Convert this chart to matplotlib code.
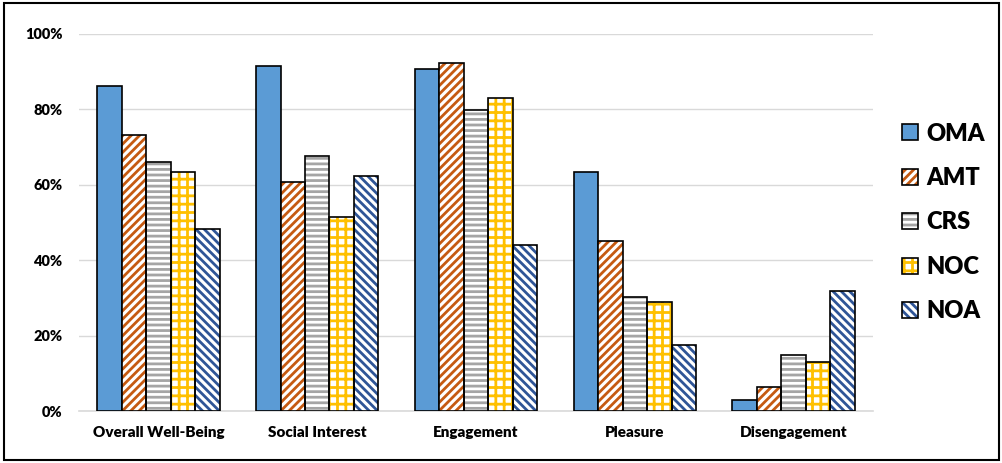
import matplotlib
matplotlib.use("Agg")
import matplotlib.pyplot as plt
import numpy as np
from matplotlib.patches import Patch, Rectangle
from matplotlib.legend_handler import HandlerTuple
from matplotlib.ticker import FuncFormatter

categories = ["Overall Well-Being", "Social Interest", "Engagement", "Pleasure", "Disengagement"]
series_names = ["OMA", "AMT", "CRS", "NOC", "NOA"]

oma = [86.2, 91.5, 90.7, 63.4, 2.9]
amt = [73.2, 60.7, 92.3, 45.1, 6.4]
crs = [66.0, 67.6, 79.8, 30.2, 14.9]
noc = [63.4, 51.5, 83.0, 28.9, 13.0]
noa = [48.3, 62.3, 44.0, 17.5, 31.8]

# look of each series: (face, hatch colour, hatch)
styles = [
    ("#5B9BD5", None, None),
    ("white", "#C55A11", "////"),
    ("white", "#A5A5A5", "---"),
    ("white", "#FFC000", "++"),
    ("white", "#2F5597", "\\\\\\\\"),
]

plt.rcParams["font.family"] = ["Lato", "DejaVu Sans"]
plt.rcParams["hatch.linewidth"] = 2.0

fig = plt.figure(figsize=(10.03, 4.63), dpi=100)
ax = fig.add_axes([0.0788, 0.1123, 0.7916, 0.8143])

x = np.arange(len(categories))
w = 0.154
all_vals = [oma, amt, crs, noc, noa]
handles = []
for i, (vals, (face, hcol, hatch)) in enumerate(zip(all_vals, styles)):
    pos = x + (i - 2) * w
    if hatch is None:
        ax.bar(pos, vals, w, color=face, edgecolor="black", linewidth=1.2, zorder=3)
        handles.append(Patch(facecolor=face, edgecolor="black", linewidth=1.2))
    else:
        ax.bar(pos, vals, w, color=face, edgecolor=hcol, hatch=hatch, linewidth=0, zorder=3)
        ax.bar(pos, vals, w, fill=False, edgecolor="black", linewidth=1.2, zorder=4)
        handles.append((Patch(facecolor=face, edgecolor=hcol, hatch=hatch, linewidth=0),
                        Patch(fill=False, edgecolor="black", linewidth=1.2)))

ax.set_xlim(-0.5, len(categories) - 0.5)
ax.set_ylim(0, 100)
ax.set_yticks(np.arange(0, 101, 20))
ax.yaxis.set_major_formatter(FuncFormatter(lambda v, _: f"{int(v)}%"))
ax.set_xticks(x)
ax.set_xticklabels(categories, fontweight="heavy", fontsize=11)
for t in ax.get_yticklabels():
    t.set_fontweight("heavy")
    t.set_fontsize(10.5)
ax.tick_params(axis="y", length=0, pad=12)
ax.tick_params(axis="x", length=0, pad=11)
ax.grid(axis="y", color="#D9D9D9", linewidth=1, zorder=0)
for s in ["top", "right", "left"]:
    ax.spines[s].set_visible(False)
ax.spines["bottom"].set_color("#D9D9D9")
ax.spines["bottom"].set_linewidth(1.2)

ax.legend(handles, series_names, handler_map={tuple: HandlerTuple(ndivide=1)},
          loc="center left", bbox_to_anchor=(1.025, 0.5), frameon=False,
          prop={"weight": "heavy", "size": 17}, handlelength=0.65, handleheight=0.65,
          labelspacing=0.95, handletextpad=0.35, borderaxespad=0)

fig.add_artist(Rectangle((0.004, 0.006), 0.992, 0.988, transform=fig.transFigure,
                         fill=False, edgecolor="black", linewidth=1.5))

fig.savefig("out.png", dpi=100)
